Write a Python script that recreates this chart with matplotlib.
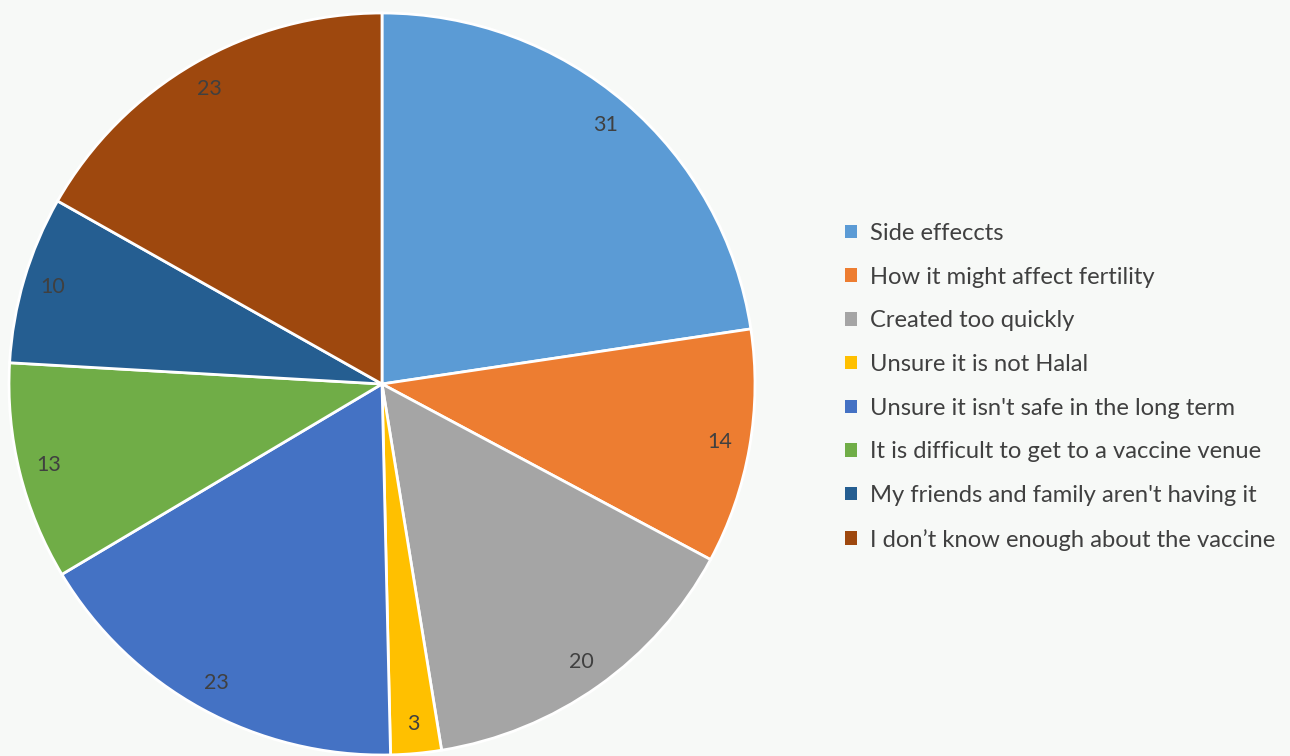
import matplotlib
matplotlib.use("Agg")
import matplotlib.pyplot as plt

# Reasons given for vaccine hesitancy (response counts)
categories = [
    "Side effeccts",
    "How it might affect fertility",
    "Created too quickly",
    "Unsure it is not Halal",
    "Unsure it isn't safe in the long term",
    "It is difficult to get to a vaccine venue",
    "My friends and family aren't having it",
    "I don\u2019t know enough about the vaccine",
]
counts = [31, 14, 20, 3, 23, 13, 10, 23]
colors = ["#5B9BD5", "#ED7D31", "#A5A5A5", "#FFC000",
          "#4472C4", "#70AD47", "#255E91", "#9E480E"]

bg = "#F7F9F7"
text_color = "#404040"
plt.rcParams["font.family"] = ["Lato", "DejaVu Sans"]

W, H = 1290, 756
fig = plt.figure(figsize=(W / 100, H / 100), dpi=100, facecolor=bg)

# pie centre and radii in pixels
cx, cy, rx, ry = 382, 384, 373, 371
ax = fig.add_axes([(cx - rx) / W, (H - cy - ry) / H, 2 * rx / W, 2 * ry / H])
ax.set_facecolor(bg)

wedges, texts = ax.pie(
    counts,
    colors=colors,
    startangle=90,
    counterclock=False,
    radius=1.0,
    labels=[str(v) for v in counts],
    labeldistance=0.92,
    wedgeprops=dict(edgecolor="white", linewidth=2),
    textprops=dict(color=text_color, fontsize=15.5),
)
for t in texts:
    t.set_horizontalalignment("center")
    t.set_verticalalignment("center")
ax.set_aspect("auto")
ax.set_xlim(-1, 1)
ax.set_ylim(-1, 1)
ax.axis("off")

leg = fig.legend(
    wedges, categories,
    loc="upper left",
    bbox_to_anchor=(845 / W, 1 - 223 / H),
    frameon=False,
    fontsize=17.1,
    labelcolor=text_color,
    handlelength=0.5,
    handleheight=0.5,
    handletextpad=0.55,
    labelspacing=0.955,
    borderpad=0,
    borderaxespad=0,
)
for h in leg.legend_handles:
    h.set_edgecolor("none")

fig.savefig("out.png", dpi=100, facecolor=bg)
